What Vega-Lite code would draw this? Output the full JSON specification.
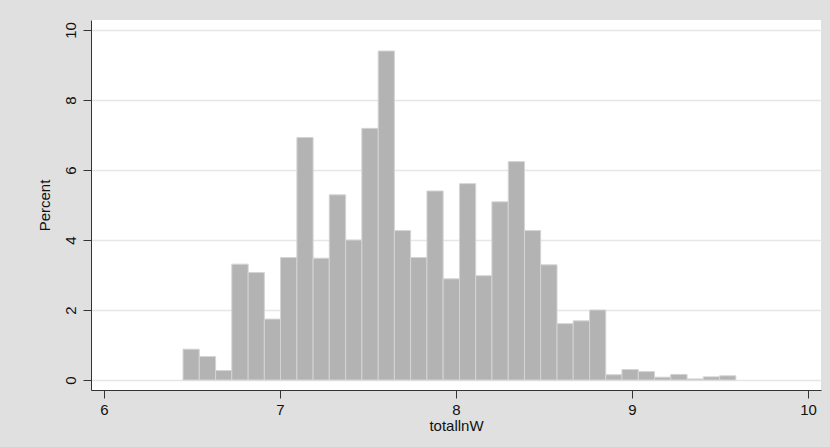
{
  "$schema": "https://vega.github.io/schema/vega-lite/v6.json",
  "width": 730,
  "height": 370,
  "autosize": {"type": "none"},
  "padding": {"left": 91, "top": 20, "right": 9, "bottom": 57},
  "background": "#e0e0e0",
  "config": {
    "view": {"fill": "white", "stroke": null},
    "font": "Liberation Sans",
    "axis": {
      "labelFont": "Liberation Sans",
      "titleFont": "Liberation Sans",
      "labelFontSize": 15,
      "titleFontSize": 15,
      "titleFontWeight": "normal",
      "labelColor": "#111",
      "titleColor": "#111",
      "domainColor": "#333",
      "tickColor": "#333",
      "tickSize": 8,
      "domainWidth": 1,
      "tickWidth": 1
    }
  },
  "data": {
    "values": [
      {"x0": 6.449, "x1": 6.541, "pct": 0.88},
      {"x0": 6.541, "x1": 6.634, "pct": 0.67},
      {"x0": 6.634, "x1": 6.726, "pct": 0.27},
      {"x0": 6.726, "x1": 6.819, "pct": 3.31},
      {"x0": 6.819, "x1": 6.911, "pct": 3.07},
      {"x0": 6.911, "x1": 7.003, "pct": 1.74},
      {"x0": 7.003, "x1": 7.096, "pct": 3.5},
      {"x0": 7.096, "x1": 7.188, "pct": 6.93},
      {"x0": 7.188, "x1": 7.280, "pct": 3.48},
      {"x0": 7.280, "x1": 7.373, "pct": 5.29},
      {"x0": 7.373, "x1": 7.465, "pct": 4.0},
      {"x0": 7.465, "x1": 7.558, "pct": 7.19},
      {"x0": 7.558, "x1": 7.650, "pct": 9.4},
      {"x0": 7.650, "x1": 7.742, "pct": 4.27},
      {"x0": 7.742, "x1": 7.835, "pct": 3.5},
      {"x0": 7.835, "x1": 7.927, "pct": 5.4},
      {"x0": 7.927, "x1": 8.020, "pct": 2.89},
      {"x0": 8.020, "x1": 8.112, "pct": 5.61},
      {"x0": 8.112, "x1": 8.204, "pct": 2.98},
      {"x0": 8.204, "x1": 8.297, "pct": 5.09},
      {"x0": 8.297, "x1": 8.389, "pct": 6.24},
      {"x0": 8.389, "x1": 8.481, "pct": 4.27},
      {"x0": 8.481, "x1": 8.574, "pct": 3.29},
      {"x0": 8.574, "x1": 8.666, "pct": 1.61},
      {"x0": 8.666, "x1": 8.759, "pct": 1.69},
      {"x0": 8.759, "x1": 8.851, "pct": 2.0},
      {"x0": 8.851, "x1": 8.943, "pct": 0.15},
      {"x0": 8.943, "x1": 9.036, "pct": 0.3},
      {"x0": 9.036, "x1": 9.128, "pct": 0.24},
      {"x0": 9.128, "x1": 9.220, "pct": 0.08},
      {"x0": 9.220, "x1": 9.313, "pct": 0.16},
      {"x0": 9.313, "x1": 9.405, "pct": 0.03},
      {"x0": 9.405, "x1": 9.498, "pct": 0.09},
      {"x0": 9.498, "x1": 9.590, "pct": 0.12}
    ]
  },
  "mark": {"type": "bar", "fill": "#b3b3b3", "stroke": "#d4d4d4", "strokeWidth": 1},
  "encoding": {
    "x": {
      "field": "x0",
      "type": "quantitative",
      "title": "totallnW",
      "scale": {"domain": [5.926, 10.074], "nice": false, "zero": false},
      "axis": {"values": [6, 7, 8, 9, 10], "grid": false, "labelPadding": 4, "titlePadding": 1, "labelFlush": false}
    },
    "x2": {"field": "x1"},
    "y": {
      "field": "pct",
      "type": "quantitative",
      "title": "Percent",
      "scale": {"domain": [-0.286, 10.286], "nice": false, "zero": false},
      "axis": {
        "values": [0, 2, 4, 6, 8, 10],
        "grid": true,
        "gridColor": "#e6e6e6",
        "gridWidth": 1.5,
        "labelAngle": -90,
        "labelAlign": "center",
        "labelBaseline": "middle",
        "labelPadding": 13,
        "titlePadding": 11,
        "labelFlush": false
      }
    },
    "y2": {"datum": 0}
  }
}
